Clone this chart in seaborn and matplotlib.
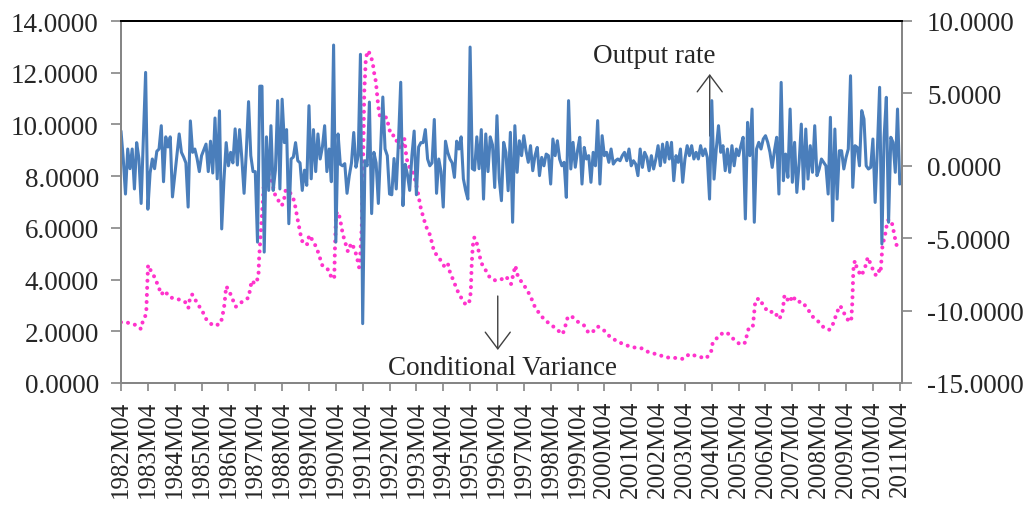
import numpy as np
import matplotlib
matplotlib.use("Agg")
import matplotlib.pyplot as plt
import seaborn as sns

# ---------------- data ----------------
start_year = 1982
n_months = 349  # 1982M04 .. 2011M04
months = list(range(n_months))
tick_months = list(range(0, n_months, 12))
tick_labels = [f"{start_year + k}M04" for k in range(len(tick_months))]

# Output rate (right axis), monthly from 1982M04
output_rate = [
    2.4, 0.5, -1.95, 1.16, -0.2, 1.16, -1.6, 1.6, 0.5, -2.6, 2.0, 6.45,
    -3.0, -0.5, 0.47, -0.2, 1.0, 1.16, 2.77, -1.1, 2.0, 1.3, 2.0, -2.15,
    -0.68, 0.8, 2.2, 0.93, 0.6, 0.2, -2.85, 3.1, 0.93, 1.16, 0.5, -0.4,
    0.7, 1.1, 1.5, -0.4, 1.7, -0.5, 3.3, -0.9, 3.8, -4.36, -1.0, 1.6,
    0.0, 0.93, 0.2, 2.55, 0.05, 2.5, 0.5, -1.9, 1.0, 4.43, 0.7, -0.4,
    -0.4, -5.27, 5.5, 5.5, -5.96, 2.0, -1.7, 2.77, -1.7, -0.3, 4.5, -1.6,
    4.6, 1.6, 2.5, -4.0, 0.47, 0.6, 1.6, 0.35, 0.2, -1.7, -0.3, -1.35,
    4.15, -0.9, 2.5, -0.4, 2.2, 0.47, 1.3, 2.77, -0.4, 1.16, -1.1, 8.34,
    -5.27, 2.2, 0.1, 0.0, 0.15, -1.9, -0.7, 0.2, 2.3, -0.1, 0.7, 7.7,
    -10.9, 0.35, 0.0, 4.4, -3.3, 0.93, 0.2, -2.6, 1.16, 4.75, 1.16, 0.7,
    -1.95, -2.0, 0.5, -1.6, 1.7, 5.77, -2.75, 0.1, -0.6, -1.7, 0.7, 2.4,
    -2.0, 1.3, 1.6, 1.6, 2.5, 0.47, 0.0, 0.2, 3.2, -1.9, 0.47, -0.4,
    -2.85, 1.7, 0.93, 0.47, 0.2, -0.8, 1.7, 1.16, 2.0, -0.9, -1.7, -2.3,
    8.2, -0.2, -0.3, 2.0, -0.2, 2.5, -2.3, 2.2, -0.4, 2.0, 1.45, -1.5,
    3.46, -0.9, -2.41, 1.62, 0.93, -1.72, 2.31, -3.9, 2.77, -0.45, 1.73, 0.7,
    2.08, 1.04, 0.24, 1.39, -0.34, 0.7, 1.27, -0.68, 0.58, 0.0, 0.81, 0.7,
    -1.26, 1.85, 0.7, 1.73, 0.47, 0.0, 0.24, -2.18, 4.5, -0.22, 1.62, -0.1,
    1.04, 1.97, -1.26, 1.27, 0.47, 0.7, -1.14, 0.93, 0.0, 3.12, -1.26, 2.08,
    0.7, 0.93, 0.24, 1.16, 0.12, 0.35, 0.47, 0.35, 0.7, 0.93, 0.35, 1.16,
    0.0, 0.35, 0.12, -0.68, 1.16, -0.11, 0.93, 0.58, -0.34, 0.7, -0.22, 0.47,
    1.39, 0.0, 1.5, 0.24, 1.62, 0.47, 1.62, -1.03, 0.7, 0.24, 1.16, -1.14,
    0.47, 1.39, 0.7, 1.39, 0.47, 0.93, 0.47, 1.39, 0.7, 1.16, 0.58, -2.3,
    4.5, -0.92, 1.16, 2.77, 0.93, 1.39, -0.34, 1.16, -0.45, 1.39, 0.0, 1.16,
    0.7, 1.39, 1.97, -3.67, 3.0, 0.7, 3.92, -3.9, 1.16, 1.62, 1.16, 1.85,
    2.08, 1.62, 0.93, -0.11, 1.04, 1.97, -1.95, 5.76, -1.03, 0.81, -0.8, 3.92,
    -1.14, 1.62, -1.84, 0.12, 2.88, -1.6, 2.54, -0.92, 1.39, -0.45, 2.77, -0.68,
    -0.22, 0.47, 0.24, 0.0, -1.95, 3.35, -3.79, 2.54, -2.3, 1.04, 1.04, -0.22,
    0.58, 1.16, 6.22, -1.49, 1.39, 1.27, 0.0, 3.81, 3.23, 0.0, -0.22, -0.11,
    1.85, -2.53, 1.16, 5.42, -5.4, 1.97, 4.73, -3.9, 1.97, 1.62, -0.45, 3.92,
    -1.26,
]

# Conditional variance (left axis): month index (from 1982M04) and value
cv_month = [
    0, 2.4, 4.8, 6.9, 8.9, 9.7, 10.7, 11.3, 11.6, 12.1, 13.1, 15, 16.7, 18, 19.5,
    21.8, 24.4, 26.2, 28.6, 30.1, 31, 31.9, 34.1, 36.4, 38.2, 41.1, 42.8, 44.6,
    45.5, 46.2, 47, 48.3, 49.8, 51.3, 53.8, 57, 58.4, 59.9, 61.4, 61.7, 62.5,
    63.2, 63.7, 64.4, 65.4, 66.9, 68.9, 70.4, 71.9, 72.9, 73.6, 75.1, 77.4, 78.9,
    80.5, 81.4, 83.3, 84.1, 85.9, 87.5, 88.8, 90, 91.5, 93, 94.2, 95.3, 95.6, 96,
    96.5, 97.9, 98.5, 99.4, 100.5, 101.4, 102.9, 104.4, 105.5, 106.4, 106.9,
    107.6, 108.2, 108.7, 109.4, 110.2, 111.4, 112.5, 113.1, 113.9, 114.7, 115.4,
    115.8, 117.6, 118.7, 119.6, 120.6, 122.5, 123.6, 125.1, 126.6, 127.6, 128.5,
    130.6, 132.5, 134, 135.1, 136.3, 138.1, 140, 141.8, 143.7, 144.9, 146.1,
    147.1, 148.6, 150.1, 152.2, 154.1, 155.6, 156.3, 156.7, 157.2, 157.9, 159.4,
    160.1, 161.3, 163.1, 165, 167.5, 169.8, 172.1, 174.3, 176.2, 177.2, 179.2,
    181.3, 183.2, 184.7, 186.9, 189.6, 191.9, 194.4, 197.4, 198.6, 199.6, 201.1,
    204.1, 206.8, 209, 210.8, 213, 216, 218.7, 222, 225.4, 228.7, 232.4, 235.8,
    239.9, 243.6, 247.6, 251.3, 254, 257.7, 261.5, 263.7, 264.4, 265.9, 267.9,
    270.7, 273.7, 276.8, 279.1, 279.8, 280.5, 282.3, 282.7, 283.1, 283.5, 285.3,
    287.3, 289.5, 292, 294, 295.5, 296.5, 298.7, 300.2, 301.7, 304.4, 306.9,
    308.9, 311.7, 314.4, 316.6, 318.4, 319.9, 321.4, 323.3, 325.3, 326.3, 326.8,
    327.2, 327.4, 328, 329, 330.9, 332.5, 333.7, 335.2, 336.8, 337.8, 338.7,
    339.4, 340, 340.3, 341.4, 342, 342.7, 344.2, 345, 345.8, 346.7, 348,
]
cv_value = [
    2.35, 2.35, 2.28, 2.24, 2.09, 2.37, 2.54, 2.76, 3.5, 4.56, 4.38, 4.09, 3.74, 3.42, 3.57,
    3.31, 3.27, 3.22, 3.14, 2.9, 3.38, 3.42, 3.08, 2.77, 2.45, 2.22, 2.24, 2.31,
    2.67, 3.02, 3.74, 3.57, 3.25, 2.95, 3.12, 3.3, 3.96, 3.83, 4.09, 4.8, 5.85,
    6.77, 7.5, 8.34, 8.15, 7.95, 7.27, 7.05, 6.86, 7.12, 7.46, 7.44, 7.05, 6.34,
    5.63, 5.37, 5.37, 5.72, 5.48, 5.21, 4.86, 4.54, 4.47, 4.34, 4.02, 4.09, 5.18, 6.28,
    6.63, 6.38, 6.02, 5.67, 5.34, 5.08, 5.41, 5.18, 4.83, 4.47, 4.92,
    6.08, 8.66, 11.24, 12.53, 12.85, 12.72, 12.37, 12.0, 11.65, 10.92, 10.4,
    10.31, 10.27, 10.27, 9.93, 9.59, 9.56, 9.24, 9.05, 9.46, 8.69, 8.4,
    8.15, 7.44, 6.75, 6.41, 6.06, 5.72, 5.05, 4.9, 4.6, 4.47, 4.6,
    4.25, 3.96, 3.61, 3.27, 3.02, 3.12, 3.51, 4.56, 5.31, 5.63, 5.31,
    4.95, 4.6, 4.34, 4.05, 3.96, 4.0, 4.12, 3.83, 4.54, 4.18, 3.87,
    3.63, 3.31, 2.99, 2.69, 2.41, 2.28, 2.09, 1.89, 2.22, 2.54, 2.6,
    2.37, 2.24, 1.93, 1.98, 2.19, 2.02, 1.77, 1.6, 1.47, 1.38, 1.35, 1.19,
    1.1, 0.99, 0.97, 0.93, 1.12, 1.03, 0.95, 1.21, 1.55, 1.7, 1.89,
    1.96, 1.7, 1.48, 1.57, 1.93, 2.11, 2.15, 2.5, 2.86, 3.21, 3.27,
    2.95, 2.73, 2.77, 2.47, 2.67, 3.4, 3.12, 3.38, 3.14, 3.14, 2.86,
    2.58, 2.37, 2.11, 2.06, 2.32, 2.73, 2.99, 2.67, 2.37, 2.41, 3.12,
    4.21, 4.56, 4.73, 4.38, 4.15, 4.47, 4.86, 4.56, 4.21, 4.15, 4.34,
    4.25, 4.99, 5.34, 5.7, 6.02, 6.3, 6.3, 5.99, 5.63, 5.29, 5.26,
]

left_ticks = [0, 2, 4, 6, 8, 10, 12, 14]
right_ticks = [-15, -10, -5, 0, 5, 10]

# ---------------- style ----------------
sns.set_style("white")
plt.rcParams["font.family"] = ["Liberation Serif", "DejaVu Serif"]

BLUE = "#4A7EBB"
MAGENTA = "#FF33CC"
AXIS_GRAY = "#868686"

fig = plt.figure(figsize=(10.27, 5.06), dpi=100)
ax = fig.add_axes([121 / 1027, 1 - 384 / 506, (902 - 121) / 1027, (384 - 22) / 506])
ax2 = ax.twinx()

sns.lineplot(x=cv_month, y=cv_value, ax=ax, color=MAGENTA, linewidth=2.9,
             linestyle=(0, (0.01, 1.75)), dash_capstyle="round", sort=False)
sns.lineplot(x=months, y=output_rate, ax=ax2, color=BLUE, linewidth=2.2)

ax.set_xlim(0, 349)
ax.set_ylim(0, 14)
ax2.set_ylim(-15, 10)

ax.set_yticks(left_ticks)
ax.set_yticklabels([f"{v:.4f}" for v in left_ticks])
ax2.set_yticks(right_ticks)
ax2.set_yticklabels([f"{v:.4f}" for v in right_ticks])
ax.set_xticks(tick_months)
ax.set_xticklabels(tick_labels, rotation=90)

for a in (ax, ax2):
    a.set_xlabel("")
    a.set_ylabel("")
    a.grid(False)
    for s in a.spines.values():
        s.set_color(AXIS_GRAY)
        s.set_linewidth(1.4)
    a.spines["top"].set_color("black")

ax.tick_params(axis="y", direction="out", length=7, width=1.2, color=AXIS_GRAY,
               labelsize=19.5, pad=9, left=True)
ax.tick_params(axis="x", direction="out", length=6, width=1.2, color=AXIS_GRAY,
               labelsize=18, pad=6, bottom=True)
ax2.tick_params(axis="y", direction="out", length=7, width=1.2, color=AXIS_GRAY,
                labelsize=19.5, pad=11, right=True)

# annotations
ax.text(0.6833, 0.8867, "Output rate", transform=ax.transAxes, ha="center",
        va="baseline", fontsize=19.5)
ax.text(0.4891, 0.0249, "Conditional Variance", transform=ax.transAxes, ha="center",
        va="baseline", fontsize=19.5)
arrow_kw = dict(arrowstyle="->,head_length=1.2,head_width=0.9", color="#404040",
                lw=1.0, mutation_scale=10, shrinkA=0, shrinkB=0)
ax.annotate("", xy=(0.7538, 0.8536), xytext=(0.7538, 0.6823),
            xycoords="axes fraction", textcoords="axes fraction", arrowprops=arrow_kw)
ax.annotate("", xy=(0.4824, 0.0912), xytext=(0.4824, 0.2403),
            xycoords="axes fraction", textcoords="axes fraction", arrowprops=arrow_kw)

fig.savefig("out.png", dpi=100)
